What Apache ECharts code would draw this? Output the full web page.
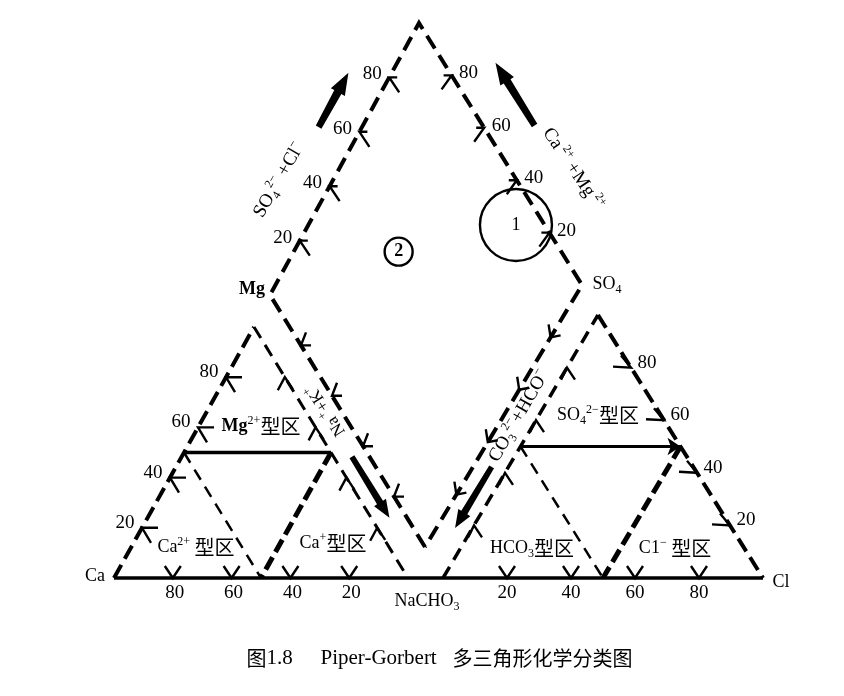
<!DOCTYPE html>
<html><head><meta charset="utf-8">
<script src="https://cdn.jsdelivr.net/npm/echarts@6/dist/echarts.min.js"></script>
<style>html,body{margin:0;padding:0;background:#fff}#c{width:844px;height:696px}</style>
</head><body><div id="c"></div>
<script>
// ================= DATA =================
const tickValues = [20, 40, 60, 80];          // percentage ticks on every axis
const tickLabels = ['20', '40', '60', '80'];
const zoneSplit = 50;                          // 50% boundaries of the type zones
// cation triangle vertices: Ca, Na(+K), Mg ; anion triangle: HCO3(+CO3), Cl, SO4
const vertexLabels = ['{rm|Ca}', '{rm|NaCHO}{sb|3}', '{bd|Mg}', '{rm|SO}{sb|4}', '{rm|Cl}'];
const cationZoneLabels = ['{rm|Ca}{sp|2+}{cj| 型区}', '{rm|Ca}{sp|+}{cj|型区}', '{bd|Mg}{sp|2+}{cj|型区}'];
const anionZoneLabels = ['{rm|HCO}{sb|3}{cj|型区}', '{rm|C1}{sp|−}{cj| 型区}', '{rm|SO}{sb|4}{sp|2−}{cj|型区}'];
const axisNames = ['{rm|SO}{sb|4}{sp|2−}{rm| +Cl}{sp|−}', '{rm|Ca}{sp| 2+}{rm| +Mg}{sp| 2+}', '{sm|Na}{sp| +}{sm|+K}{sp|+}', '{rm|CO}{sb|3}{sp|2−}{rm|+HCO}{sp|−}'];
// marked regions in the diamond: [SO4+Cl %, Ca+Mg %]
const markSO4Cl = [91, 49];
const markCaMg = [32, 65];
const markText = ['{rm|1}', '{bd|2}'];
const captionParts = ['{cj|图}{rm|1.8}', '{rm|Piper-Gorbert}', '{cj|多三角形化学分类图}'];

// ================= LAYOUT =================
const INK = '#000000';
const SERIF = '"Liberation Serif","DejaVu Serif",serif';
const CJK = '"Noto Sans CJK SC","Noto Sans CJK JP",sans-serif';
const CAT = {A: [114, 578], B: [408, 578], C: [254, 327]};
const AN = {A: [443, 578], B: [763, 578], C: [598, 315]};
const DIA = {B: [425, 547], L: [270, 295], R: [582, 285], T: [419, 23]};

function tern(T, a, b, c) {
  const s = a + b + c;
  return [(a * T.A[0] + b * T.B[0] + c * T.C[0]) / s, (a * T.A[1] + b * T.B[1] + c * T.C[1]) / s];
}
function dia(a, c) {
  a /= 100; c /= 100; const D = DIA;
  return [0, 1].map(i => D.B[i] * (1 - a) * (1 - c) + D.R[i] * a * (1 - c) + D.L[i] * (1 - a) * c + D.T[i] * a * c);
}
const add = (p, d) => [p[0] + d[0], p[1] + d[1]];
// point on a diamond edge (fraction t) pushed out along its normal by d
function edgePt(P, Q, t, d, side) {
  const dx = Q[0] - P[0], dy = Q[1] - P[1], len = Math.hypot(dx, dy);
  const nx = side * -dy / len, ny = side * dx / len;
  return [P[0] + dx * t + nx * d, P[1] + dy * t + ny * d];
}

const series = [];
function addLines(polys, style, extra) {
  series.push(Object.assign({
    type: 'lines', coordinateSystem: 'cartesian2d', polyline: true, silent: true, z: 2,
    data: polys.map(c => ({coords: c})),
    lineStyle: Object.assign({color: INK, opacity: 1, cap: 'butt'}, style)
  }, extra || {}));
}

// ---- outlines ----
const diamond = [dia(0, 0), dia(0, 100), dia(100, 100), dia(100, 0), dia(0, 0)];
addLines([diamond], {width: 4, type: [15, 8]});
addLines([[tern(CAT, 100, 0, 0), tern(CAT, 0, 0, 100)]], {width: 4, type: [15, 7]});
addLines([[tern(CAT, 0, 0, 100), tern(CAT, 0, 100, 0)]], {width: 3, type: [13, 8]});
addLines([[tern(AN, 100, 0, 0), tern(AN, 0, 0, 100)]], {width: 3.5, type: [13, 8]});
addLines([[tern(AN, 0, 0, 100), tern(AN, 0, 100, 0)]], {width: 4, type: [15, 7]});
// base line
addLines([[tern(CAT, 100, 0, 0), tern(AN, 0, 100, 0)]], {width: 3.5, type: 'solid'});
// zone boundaries (50%)
const h = zoneSplit, r = 100 - zoneSplit;
addLines([[tern(CAT, r, 0, h), tern(CAT, 0, r, h)]], {width: 3.5, type: 'solid'});
addLines([[tern(CAT, r, 0, h), tern(CAT, h, r, 0)], [tern(AN, r, 0, h), tern(AN, h, r, 0)]], {width: 2.5, type: [12, 8]});
addLines([[tern(CAT, 0, r, h), tern(CAT, h, r, 0)], [tern(AN, 0, r, h), tern(AN, h, r, 0)]], {width: 5, type: [14, 6]});
addLines([[tern(AN, r, 0, h), tern(AN, 0, r, h)]], {width: 3, type: 'solid'},
  {polyline: false, symbol: ['none', 'arrow'], symbolSize: [0, 13]});

// ---- ticks ----
const tickSets = [
  {f: v => tern(CAT, v, 100 - v, 0), arms: [[-8, -12], [8, -12]]},
  {f: v => tern(CAT, 100 - v, 0, v), arms: [[16, 0], [9, 15]]},
  {f: v => tern(CAT, 0, 100 - v, v), arms: [[-7, 13], [8, 12]]},
  {f: v => tern(AN, 100 - v, v, 0), arms: [[-8, -12], [8, -12]]},
  {f: v => tern(AN, 100 - v, 0, v), arms: [[-6, 12], [8, 12]]},
  {f: v => tern(AN, 0, 100 - v, v), arms: [[-18, -1], [-10, -12]]},
  {f: v => dia(v, 100), arms: [[8, 0], [10, 15]]},
  {f: v => dia(100, v), arms: [[-8, 0], [-10, 14]]},
  {f: v => dia(0, v), arms: [[5, -13], [10, 0]]},
  {f: v => dia(v, 0), arms: [[-2, -13], [10, -2]]}
];
const tickPolys = [];
tickSets.forEach(s => tickValues.forEach(v => {
  const p = s.f(v);
  tickPolys.push([add(p, s.arms[0]), p, add(p, s.arms[1])]);
}));
addLines(tickPolys, {width: 2.4, type: 'solid'});

// ---- thick direction arrows ----
const arrows = [
  [edgePt(DIA.L, DIA.T, 0.55, 38, -1), edgePt(DIA.L, DIA.T, 0.75, 38, -1)],
  [edgePt(DIA.R, DIA.T, 0.52, 44, 1), edgePt(DIA.R, DIA.T, 0.76, 44, 1)],
  [edgePt(DIA.L, DIA.B, 0.611, 15, 1), edgePt(DIA.L, DIA.B, 0.853, 15, 1)],
  [edgePt(DIA.B, DIA.R, 0.337, 16, 1), edgePt(DIA.B, DIA.R, 0.104, 16, 1)]
];
const arrowDims = [[8, 16, 22], [8, 16, 22], [7, 14, 18], [7, 14, 18]];
series.push({
  type: 'custom', coordinateSystem: 'cartesian2d', silent: true, z: 4,
  data: arrows.map(a => [a[0][0], a[0][1], a[1][0], a[1][1]]),
  renderItem(params, api) {
    const p0 = api.coord([api.value(0), api.value(1)]);
    const p1 = api.coord([api.value(2), api.value(3)]);
    const [w, hw, hl] = arrowDims[params.dataIndex];
    const dx = p1[0] - p0[0], dy = p1[1] - p0[1], len = Math.hypot(dx, dy);
    const ux = dx / len, uy = dy / len, nx = -uy, ny = ux;
    const nb = [p1[0] - ux * hl, p1[1] - uy * hl];
    const tw = w * 0.4;
    const pts = [
      [p0[0] + nx * tw, p0[1] + ny * tw],
      [nb[0] + nx * w / 2, nb[1] + ny * w / 2],
      [nb[0] + nx * hw / 2, nb[1] + ny * hw / 2],
      p1,
      [nb[0] - nx * hw / 2, nb[1] - ny * hw / 2],
      [nb[0] - nx * w / 2, nb[1] - ny * w / 2],
      [p0[0] - nx * tw, p0[1] - ny * tw]
    ];
    return {type: 'polygon', shape: {points: pts}, style: {fill: INK}};
  }
});

// ---- circled marks ----
const markSizes = [72, 28];
series.push({
  type: 'scatter', silent: true, z: 5,
  data: markSO4Cl.map((a, i) => ({value: dia(a, markCaMg[i]), symbolSize: markSizes[i]})),
  itemStyle: {color: 'rgba(0,0,0,0)', borderColor: INK, borderWidth: 2.4, opacity: 1}
});

// ---- texts ----
function richSet(sz, cj) {
  return {
    rm: {fontFamily: SERIF, fontSize: sz, color: INK, lineHeight: sz + 5},
    bd: {fontFamily: SERIF, fontSize: sz, fontWeight: 'bold', color: INK, lineHeight: sz + 5},
    sm: {fontFamily: SERIF, fontSize: sz - 2, color: INK, lineHeight: sz + 5},
    sp: {fontFamily: SERIF, fontSize: Math.round(sz * 0.65), color: INK, verticalAlign: 'top', lineHeight: Math.round(sz * 0.65)},
    sb: {fontFamily: SERIF, fontSize: Math.round(sz * 0.65), color: INK, verticalAlign: 'bottom', lineHeight: Math.round(sz * 0.65)},
    cj: {fontFamily: CJK, fontSize: cj || sz, color: INK, lineHeight: sz + 5}
  };
}
function addTexts(items, rich) {
  series.push({
    type: 'scatter', silent: true, z: 6, symbolSize: 1,
    itemStyle: {color: 'rgba(0,0,0,0)', opacity: 1},
    label: {show: true, position: 'inside', color: INK, opacity: 1, rich: rich},
    data: items.map(it => ({
      value: it.p,
      label: {formatter: it.t, rotate: it.r || 0, position: it.pos || 'inside', distance: 0}
    }))
  });
}
// tick numbers
const numItems = [];
const numOffsets = [[2, 15], [-17, -5], null, [0, 15], null, [16, -5], [-17, -3], [17, -2], null, null];
tickSets.forEach((s, k) => {
  if (!numOffsets[k]) return;
  tickValues.forEach((v, i) => {
    const lbl = k === 0 ? tickLabels[tickLabels.length - 1 - i] : tickLabels[i];
    const val = k === 0 ? 100 - v : v;
    numItems.push({p: add(s.f(val), numOffsets[k]), t: '{rm|' + lbl + '}'});
  });
});
addTexts(numItems, richSet(19));
// vertex labels
const vertexPos = [[95, 576], [427, 601], [252, 289], [607, 284], [781, 582]];
addTexts(vertexLabels.map((t, i) => ({p: vertexPos[i], t})), richSet(18));
// zone labels
const zonePos = [[196, 547], [333, 543], [261, 426], [532, 548], [675, 548], [598, 415]];
addTexts(cationZoneLabels.concat(anionZoneLabels).map((t, i) => ({p: zonePos[i], t})), richSet(18, 20));
// axis names
const axisPos = [[279, 180], [573, 169], [326, 410], [519, 416]];
const axisRot = [60, -56, 123, 60];
addTexts(axisNames.map((t, i) => ({p: axisPos[i], t, r: axisRot[i]})), richSet(19));
// circled mark text
addTexts(markText.map((t, i) => ({p: dia(markSO4Cl[i], markCaMg[i]), t})), richSet(18));
// caption
const capPos = [[246, 658], [320, 658], [633, 658]];
const capSide = ['right', 'right', 'left'];
addTexts(captionParts.map((t, i) => ({p: capPos[i], t, pos: capSide[i]})), richSet(21, 20));

const chart = echarts.init(document.getElementById('c'), null, {renderer: 'canvas'});
chart.setOption({
  animation: false,
  backgroundColor: '#ffffff',
  grid: {left: 0, right: 0, top: 0, bottom: 0, containLabel: false},
  xAxis: {type: 'value', min: 0, max: 844, show: false},
  yAxis: {type: 'value', min: 0, max: 696, inverse: true, show: false},
  series: series
});
</script></body></html>
